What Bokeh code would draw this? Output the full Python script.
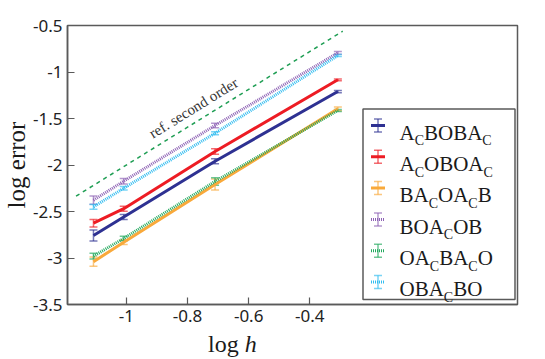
import math
from bokeh.plotting import figure
from bokeh.layouts import column
from bokeh.models import ColumnDataSource, Whisker, TeeHead, FixedTicker, Label, Div
from bokeh.core.properties import value
from bokeh.embed import file_html
from bokeh.resources import INLINE

# ---------------- data ----------------
log_h = [-1.108, -1.009, -0.71, -0.308]

series_names = ["A_CBOBA_C", "A_COBOA_C", "BA_COA_CB", "BOA_COB", "OA_CBA_CO", "OBA_CBO"]
acboba_c = [-2.758, -2.56, -1.959, -1.21]
acoboa_c = [-2.626, -2.47, -1.855, -1.084]
ba_coa_cb = [-3.04, -2.83, -2.21, -1.396]
boa_cob = [-2.378, -2.174, -1.575, -0.794]
oa_cba_co = [-2.98, -2.79, -2.177, -1.414]
oba_cbo = [-2.45, -2.25, -1.658, -0.823]

acboba_c_err = [0.059, 0.027, 0.027, 0.012]
acoboa_c_err = [0.041, 0.027, 0.029, 0.010]
ba_coa_cb_err = [0.050, 0.025, 0.060, 0.020]
boa_cob_err = [0.045, 0.030, 0.025, 0.015]
oa_cba_co_err = [0.030, 0.024, 0.040, 0.012]
oba_cbo_err = [0.025, 0.020, 0.016, 0.010]

ref_x = [-1.165, -0.292]
ref_y = [-2.335, -0.561]
ref_label = "ref. second order"

x_ticks = [-1.0, -0.8, -0.6, -0.4]
x_tick_labels = ["-1", "-0.8", "-0.6", "-0.4"]
y_ticks = [-3.5, -3.0, -2.5, -2.0, -1.5, -1.0, -0.5]
y_tick_labels = ["-3.5", "-3", "-2.5", "-2", "-1.5", "-1", "-0.5"]

x_label_main = "log"
x_label_var = "h"
y_label = "log error"

# ---------------- styles ----------------
values = [acboba_c, acoboa_c, ba_coa_cb, boa_cob, oa_cba_co, oba_cbo]
errors = [acboba_c_err, acoboa_c_err, ba_coa_cb_err, boa_cob_err, oa_cba_co_err, oba_cbo_err]
colors = ["#2e3192", "#ed1c24", "#f9a93b", "#8e63b5", "#22a95e", "#33bdf0"]
dashes = ["solid", "solid", "solid", "1 1", "1 1", "1 1"]

XMIN, XMAX = -1.193, 0.28
YMIN, YMAX = -3.5, -0.5
FW, FH = 450, 279
FL, FT = 63, 25  # frame position on page

def X(px):
    return XMIN + (px - FL) / FW * (XMAX - XMIN)

def Y(py):
    return YMAX - (py - FT) / FH * (YMAX - YMIN)

FRAME_COLOR = "#5a5a5a"
SERIF = "Liberation Serif"

p = figure(frame_width=FW, frame_height=FH, x_range=(XMIN, XMAX), y_range=(YMIN, YMAX),
           output_backend="svg", toolbar_location=None,
           min_border_left=FL, min_border_right=24, min_border_top=FT, min_border_bottom=28)
p.background_fill_color = "white"
p.border_fill_color = "white"
p.grid.visible = False
p.outline_line_color = FRAME_COLOR
p.outline_line_width = 1.5

for ax in (p.xaxis[0], p.yaxis[0]):
    ax.axis_line_color = FRAME_COLOR
    ax.axis_line_width = 1.5
    ax.major_tick_line_color = FRAME_COLOR
    ax.major_tick_line_width = 1.2
    ax.major_tick_in = 7
    ax.major_tick_out = 0
    ax.minor_tick_line_color = None
    ax.major_label_text_font = "Noto Sans"
    ax.major_label_text_font_size = "17px"
    ax.major_label_text_color = "#222222"

p.xaxis.ticker = FixedTicker(ticks=x_ticks)
p.xaxis.major_label_overrides = dict(zip(x_ticks, x_tick_labels))
p.xaxis.major_label_standoff = 5
p.yaxis.ticker = FixedTicker(ticks=y_ticks)
p.yaxis.major_label_overrides = dict(zip(y_ticks, y_tick_labels))
p.yaxis.major_label_standoff = 5

p.yaxis.axis_label = y_label
p.yaxis.axis_label_text_font = SERIF
p.yaxis.axis_label_text_font_size = "25px"
p.yaxis.axis_label_text_font_style = "normal"
p.yaxis.axis_label_text_color = "#1a1a1a"
p.yaxis.axis_label_standoff = 0

# reference line
p.line(ref_x, ref_y, line_color="#1f9e54", line_width=1.5, line_dash="4 4")
sx = FW / (XMAX - XMIN)
sy = FH / (YMAX - YMIN)
ang = math.atan2((ref_y[1] - ref_y[0]) * sy, (ref_x[1] - ref_x[0]) * sx)
p.add_layout(Label(x=X(189), y=Y(107.5), text=ref_label, angle=ang,
                   text_font=SERIF, text_font_size="15px", text_color="#333333",
                   text_align="center", text_baseline="middle"))

# series
for vals, errs, col, dash in zip(values, errors, colors, dashes):
    src = ColumnDataSource(dict(x=log_h, y=vals,
                                upper=[v + e for v, e in zip(vals, errs)],
                                lower=[v - e for v, e in zip(vals, errs)]))
    p.line("x", "y", source=src, line_color=col, line_width=3, line_dash=dash)
    w = Whisker(source=src, base="x", upper="upper", lower="lower", dimension="height",
                line_color=col, line_width=1.5, line_alpha=0.65,
                upper_head=TeeHead(size=8, line_color=col, line_width=1.5, line_alpha=0.65),
                lower_head=TeeHead(size=8, line_color=col, line_width=1.5, line_alpha=0.65))
    p.add_layout(w)

# ---------------- manual legend ----------------
LB_L, LB_R, LB_T, LB_B = 358.5, 510.5, 108.5, 299
p.quad(left=[X(LB_L)], right=[X(LB_R)], top=[Y(LB_T)], bottom=[Y(LB_B)],
       fill_color="white", line_color=FRAME_COLOR, line_width=1.5)

adv = {"A": 0.722, "B": 0.667, "C": 0.667, "O": 0.722}
MAIN_FS, SUB_FS = 21, 14
row0, row_step = 125, 31.3
for i, (name, col, dash) in enumerate(zip(series_names, colors, dashes)):
    cy = row0 + i * row_step
    p.line([X(366.5), X(380.5)], [Y(cy), Y(cy)], line_color=col, line_width=3, line_dash=dash)
    p.segment([X(373.5)], [Y(cy - 6.5)], [X(373.5)], [Y(cy + 6.5)], line_color=col,
              line_width=1.5, line_alpha=0.65)
    p.segment([X(369.5), X(369.5)], [Y(cy - 6.5), Y(cy + 6.5)], [X(377.5), X(377.5)],
              [Y(cy - 6.5), Y(cy + 6.5)], line_color=col, line_width=1.5, line_alpha=0.65)
    runs = []
    sub = False
    for ch in name:
        if ch == "_":
            sub = True
            continue
        if runs and runs[-1][1] == sub and not sub:
            runs[-1][0] += ch
        else:
            runs.append([ch, sub])
        sub = False
    px = 395.0
    base = cy + 7.3
    for txt, is_sub in runs:
        fs = SUB_FS if is_sub else MAIN_FS
        by = base + 8.0 if is_sub else base
        p.text(x=[X(px)], y=[Y(by)], text=[txt], text_font=value(SERIF),
               text_font_size=f"{fs}px", text_color="#1a1a1a",
               text_align="left", text_baseline="alphabetic")
        px += sum(adv.get(c, 0.6) for c in txt) * fs

# x axis label "log h" (italic h), placed under the axis
xlab = Div(
    text=('<div style="font-family:\'Liberation Serif\',serif;font-size:24px;line-height:24px;'
          'color:#1a1a1a;white-space:nowrap;padding-left:203px;margin:0;'
          'position:relative;top:-5px">'
          f'{x_label_main} <i>{x_label_var}</i></div>'),
    width=300, height=20)

layout = column(p, xlab)
open("out.html", "w").write(file_html(layout, INLINE))
